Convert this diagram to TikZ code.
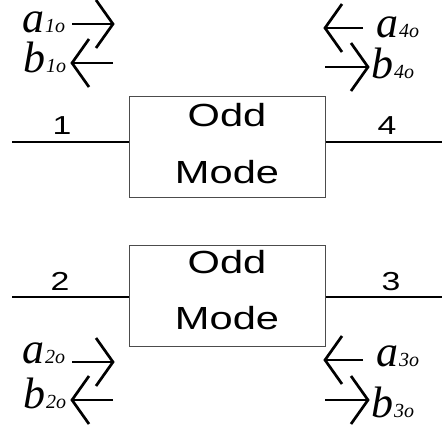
\documentclass[tikz,border=0pt]{standalone}
\usepackage{fontspec}
\setmainfont{Liberation Serif}
\newfontfamily\labelfont[FakeStretch=1.3]{Liberation Sans}
\newcommand\sub[1]{\hspace{1pt}{\fontsize{20}{20}\selectfont #1}}

\begin{document}
\begin{tikzpicture}[x=1pt,y=-1pt,
  wave/.style={line width=2.7pt},
  port/.style={line width=2.8pt},
  block/.style={draw=black!70, line width=1pt, minimum width=196pt, minimum height=101pt, inner sep=0pt},
  blocktext/.style={font=\labelfont\fontsize{32}{32}\selectfont, inner sep=0pt, anchor=base},
  portnum/.style={font=\labelfont\fontsize{26}{26}\selectfont, inner sep=0pt, anchor=base},
  amp/.style={font=\itshape\fontsize{44}{44}\selectfont, inner sep=0pt, anchor=base west, text height=24pt},
]
\useasboundingbox (0,0) rectangle (442,429);

% two odd-mode blocks
\node[block] (up) at (227,146.5) {};
\node[block] (dn) at (227,296) {};
\node[blocktext] (upodd) at (227,126) {Odd};
\node[blocktext] (upmode) at (227,183) {Mode};
\node[blocktext] (dnodd) at (227,273) {Odd};
\node[blocktext] (dnmode) at (227,329) {Mode};

% port lines
\coordinate (e1) at (12,142);
\coordinate (e4) at (442,142);
\coordinate (e2) at (12,297);
\coordinate (e3) at (442,297);
\draw[port] (e1) -- (up.west |- e1);
\draw[port] (up.east |- e4) -- (e4);
\draw[port] (e2) -- (dn.west |- e2);
\draw[port] (dn.east |- e3) -- (e3);

% port numbers
\node[portnum] (n1) at (62,134) {1};
\node[portnum] (n4) at (387,134) {4};
\node[portnum] (n2) at (60,290) {2};
\node[portnum] (n3) at (391,290) {3};

% wave arrows: shaft plus an open chevron at the head
\newcommand\rwave[2]{\draw[wave] (#1) -- (#2); \draw[wave] (#2) ++(-17,-24) -- (#2) -- ++(-17,24);}
\newcommand\lwave[2]{\draw[wave] (#1) -- (#2); \draw[wave] (#2) ++(17,-24) -- (#2) -- ++(17,24);}

% port 1
\node[amp] (a1) at (22,32) {a\sub{1o}};
\node[amp] (b1) at (23,72) {b\sub{1o}};
\coordinate (a1s) at (72,24);  \coordinate (a1e) at (113,24);
\coordinate (b1s) at (113,63); \coordinate (b1e) at (72,63);
\rwave{a1s}{a1e}
\lwave{b1s}{b1e}

% port 4
\node[amp] (a4) at (376,37) {a\sub{4o}};
\node[amp] (b4) at (371,78) {b\sub{4o}};
\coordinate (a4s) at (363,28); \coordinate (a4e) at (325,28);
\coordinate (b4s) at (325,67); \coordinate (b4e) at (368,67);
\lwave{a4s}{a4e}
\rwave{b4s}{b4e}

% port 2
\node[amp] (a2) at (22,363) {a\sub{2o}};
\node[amp] (b2) at (23,408) {b\sub{2o}};
\coordinate (a2s) at (72,362);  \coordinate (a2e) at (113,362);
\coordinate (b2s) at (113,400); \coordinate (b2e) at (72,400);
\rwave{a2s}{a2e}
\lwave{b2s}{b2e}

% port 3
\node[amp] (a3) at (376,366) {a\sub{3o}};
\node[amp] (b3) at (371,417) {b\sub{3o}};
\coordinate (a3s) at (363,360); \coordinate (a3e) at (325,360);
\coordinate (b3s) at (325,400); \coordinate (b3e) at (368,400);
\lwave{a3s}{a3e}
\rwave{b3s}{b3e}
\end{tikzpicture}
\end{document}
